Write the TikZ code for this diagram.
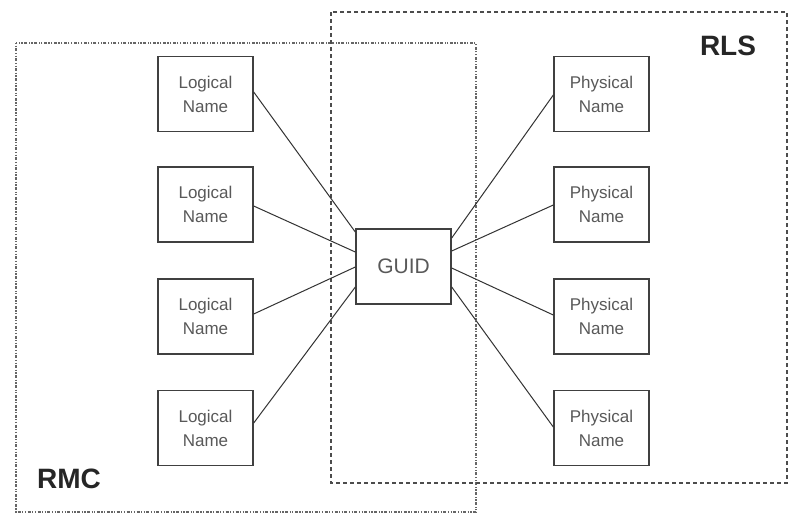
\documentclass[tikz,border=0pt]{standalone}
\usepackage{fontspec}
\setmainfont{Liberation Sans}
\begin{document}
\begin{tikzpicture}[x=1pt,y=-1pt,
  namebox/.style={draw=black!75,line width=1.4pt,minimum width=95pt,minimum height=75pt,
    inner sep=0pt,font=\fontsize{17}{24}\selectfont,text=black!65,align=center},
  link/.style={draw=black!80,line width=1pt},
  rmcframe/.style={draw=black!60,line width=1.1pt,dash pattern=on 1.2pt off 1.5pt on 1.2pt off 1.5pt on 3pt off 1.5pt},
  rlsframe/.style={draw=black!70,line width=1.1pt,dash pattern=on 4pt off 3pt},
  arealabel/.style={font=\fontsize{28}{30}\bfseries\selectfont,text=black!85,inner sep=0pt}]
  \useasboundingbox[fill=white] (0,0) rectangle (789,515);

  % service areas
  \draw[rmcframe] (16,43) rectangle (476,512);
  \draw[rlsframe] (331,12) rectangle (787,483);
  \node[arealabel] (rls) at (728,46) {RLS};
  \node[arealabel] (rmc) at (69,479) {RMC};

  % logical names
  \node[namebox] (l1) at (205.5,94) {Logical\\Name};
  \node[namebox] (l2) at (205.5,204.5) {Logical\\Name};
  \node[namebox] (l3) at (205.5,316.5) {Logical\\Name};
  \node[namebox] (l4) at (205.5,428) {Logical\\Name};

  % physical names
  \node[namebox] (p1) at (601.5,94) {Physical\\Name};
  \node[namebox] (p2) at (601.5,204.5) {Physical\\Name};
  \node[namebox] (p3) at (601.5,316.5) {Physical\\Name};
  \node[namebox] (p4) at (601.5,428) {Physical\\Name};

  % central identifier
  \node[namebox,font=\fontsize{21}{24}\selectfont] (g) at (403.5,266.5) {GUID};

  % mappings
  \draw[link] ([yshift=2pt]l1.east) -- ([yshift=34.5pt]g.west);
  \draw[link] ([yshift=-1.5pt]l2.east) -- ([yshift=14.5pt]g.west);
  \draw[link] ([yshift=2.5pt]l3.east) -- ([yshift=-0.5pt]g.west);
  \draw[link] ([yshift=5pt]l4.east) -- ([yshift=-20.5pt]g.west);

  \draw[link] ([yshift=28.5pt]g.east) -- ([yshift=-1pt]p1.west);
  \draw[link] ([yshift=15.5pt]g.east) -- ([yshift=-0.5pt]p2.west);
  \draw[link] ([yshift=-1.5pt]g.east) -- ([yshift=1.5pt]p3.west);
  \draw[link] ([yshift=-20.5pt]g.east) -- ([yshift=1pt]p4.west);
\end{tikzpicture}
\end{document}
